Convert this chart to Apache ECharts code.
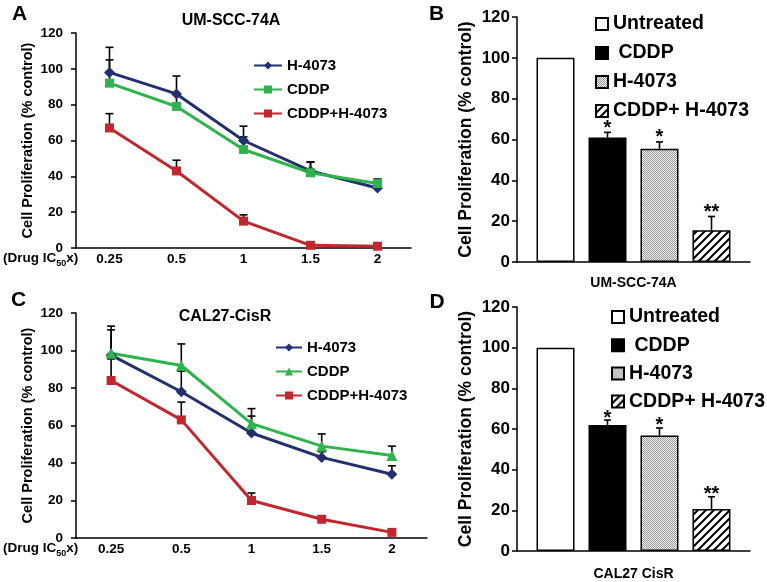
<!DOCTYPE html>
<html><head><meta charset="utf-8">
<script src="https://cdn.jsdelivr.net/npm/echarts@6/dist/echarts.min.js"></script>
<style>html,body{margin:0;padding:0;background:#fff}#c{width:767px;height:582px}</style>
</head><body><div id="c"></div>
<script>
// ---------- data ----------
const doseLabels = ['0.25', '0.5', '1', '1.5', '2'];
const lineNames = ['H-4073', 'CDDP', 'CDDP+H-4073'];

// Panel A : UM-SCC-74A
const A_h4073     = [98, 86, 60, 43, 33.5];
const A_h4073_err = [14, 10, 8, 5, 4.5];
const A_cddp      = [92, 79, 55, 42, 36];
const A_cddp_err  = [13, 7, 7, 6, 2.5];
const A_combo     = [67, 43, 15, 1.5, 1];
const A_combo_err = [8, 6, 3.5, 0, 0];

// Panel C : CAL27-CisR
const C_h4073     = [97.5, 78, 56, 43, 34];
const C_h4073_err = [13.5, 11, 9, 3, 4.5];
const C_cddp      = [98.5, 92, 61, 49, 44];
const C_cddp_err  = [14.5, 11.5, 8, 6.5, 5];
const C_combo     = [84, 63, 20, 10, 3];
const C_combo_err = [11.5, 9.5, 4, 0.5, 0];

// Bar panels
const barNames = ['Untreated', ' CDDP', 'H-4073', 'CDDP+ H-4073'];
const barStars = ['', '*', '*', '**'];
const B_values = [100, 61, 55.5, 15.5];
const B_err    = [0, 2.5, 3.3, 6.8];
const D_values = [100, 62, 56.8, 20.7];
const D_err    = [0, 2.4, 3.7, 6];
const B_category = ['UM-SCC-74A'];
const D_category = ['CAL27 CisR'];

const yTicks = {min: 0, max: 120, interval: 20};

// ---------- styles ----------
const FONT = '"Liberation Sans", Arial, Helvetica, sans-serif';
const NAVY = '#22306e', GREEN = '#2fb34c', RED = '#c1272d';
const BAR_W = 38, BAR_GAP = 14;

function makePattern(kind) {
  const cv = document.createElement('canvas');
  if (kind === 'dots') {
    cv.width = 2; cv.height = 2;
    const g = cv.getContext('2d');
    g.fillStyle = '#ececec'; g.fillRect(0, 0, 2, 2);
    g.fillStyle = '#9c9c9c'; g.fillRect(0, 0, 1, 1); g.fillRect(1, 1, 1, 1);
  } else {
    cv.width = 8; cv.height = 8;
    const g = cv.getContext('2d');
    g.fillStyle = '#fff'; g.fillRect(0, 0, 8, 8);
    g.strokeStyle = '#000'; g.lineWidth = 2;
    g.beginPath();
    g.moveTo(-2, 10); g.lineTo(10, -2);
    g.moveTo(-2, 2); g.lineTo(2, -2);
    g.moveTo(6, 10); g.lineTo(10, 6);
    g.stroke();
  }
  return {image: cv, repeat: 'repeat'};
}
const barColors = ['#ffffff', '#000000', makePattern('dots'), makePattern('hatch')];

const chart = echarts.init(document.getElementById('c'), null, {renderer: 'canvas'});

const grids = [
  {left: 76, right: 356, top: 33, bottom: 334},
  {left: 517, right: 17, top: 17, bottom: 320},
  {left: 76, right: 340, top: 313, bottom: 44},
  {left: 517, right: 17, top: 307, bottom: 31}
];

function yAxis(gi, fs, margin, nfs, ngap) {
  return Object.assign({
    type: 'value', gridIndex: gi,
    splitLine: {show: false},
    axisLine: {show: true, lineStyle: {color: '#000', width: 1.5}},
    axisTick: {show: true, length: 5, lineStyle: {color: '#000', width: 1.5}},
    axisLabel: {color: '#000', fontWeight: 'bold', fontSize: fs, fontFamily: FONT, margin: margin},
    name: 'Cell Proliferation (% control)', nameLocation: 'middle', nameGap: ngap,
    nameTextStyle: {color: '#000', fontWeight: 'bold', fontSize: nfs, fontFamily: FONT}
  }, yTicks);
}
function xLineAxis(gi) {
  return {
    type: 'category', gridIndex: gi, data: doseLabels, boundaryGap: true,
    axisLine: {lineStyle: {color: '#000', width: 1.5}},
    axisTick: {length: 5, lineStyle: {color: '#000', width: 1.5}},
    axisLabel: {color: '#000', fontWeight: 'bold', fontSize: 13.5, fontFamily: FONT, margin: 4}
  };
}
function xBarAxis(gi, cats, margin) {
  return {
    type: 'category', gridIndex: gi, data: cats, boundaryGap: true,
    axisLine: {lineStyle: {color: '#000', width: 1.5}},
    axisTick: {length: 5, lineStyle: {color: '#000', width: 1.5}},
    axisLabel: {color: '#000', fontWeight: 'bold', fontSize: 14, fontFamily: FONT, margin: margin}
  };
}

function lineErr(gi, vals, errs) {
  return {
    type: 'custom', xAxisIndex: gi, yAxisIndex: gi, z: 1, silent: true,
    data: vals.map((v, i) => [i, v, errs[i]]),
    encode: {x: 0, y: 1},
    renderItem: function (params, api) {
      const e = api.value(2);
      if (!(e > 0)) return null;
      const p1 = api.coord([api.value(0), api.value(1)]);
      const p2 = api.coord([api.value(0), api.value(1) + e]);
      const st = {stroke: '#000', lineWidth: 1.6};
      return {type: 'group', children: [
        {type: 'line', shape: {x1: p1[0], y1: p1[1], x2: p2[0], y2: p2[1]}, style: st},
        {type: 'line', shape: {x1: p2[0] - 4, y1: p2[1], x2: p2[0] + 4, y2: p2[1]}, style: st}
      ]};
    }
  };
}
function lineSeries(gi, panel, name, vals, color, symbol, size) {
  return {
    type: 'line', name: name + '|' + panel, xAxisIndex: gi, yAxisIndex: gi, z: 3,
    data: vals, symbol: symbol, symbolSize: size, showSymbol: true,
    lineStyle: {color: color, width: 3}, itemStyle: {color: color},
    emphasis: {disabled: true}
  };
}
function barSeries(gi, panel, vals) {
  return barNames.map((n, i) => ({
    type: 'bar', name: n + '|' + panel, xAxisIndex: gi, yAxisIndex: gi,
    data: [vals[i]], barWidth: BAR_W, barGap: (BAR_GAP / BAR_W * 100).toFixed(1) + '%',
    itemStyle: {color: barColors[i], borderColor: '#000', borderWidth: 1.5},
    emphasis: {disabled: true}
  }));
}
function barErr(gi, vals, errs, starOff) {
  return {
    type: 'custom', xAxisIndex: gi, yAxisIndex: gi, z: 4, silent: true,
    data: vals.map((v, i) => [0, v, errs[i], i]),
    encode: {x: 0, y: 1},
    renderItem: function (params, api) {
      const idx = api.value(3);
      const c = api.coord([0, api.value(1) + api.value(2)]);
      const x = c[0] + (idx - 1.5) * (BAR_W + BAR_GAP);
      const base = api.coord([0, api.value(1)]);
      const kids = [];
      const st = {stroke: '#000', lineWidth: 1.6};
      if (api.value(2) > 0) {
        kids.push({type: 'line', shape: {x1: x, y1: base[1], x2: x, y2: c[1]}, style: st});
        kids.push({type: 'line', shape: {x1: x - 3.5, y1: c[1], x2: x + 3.5, y2: c[1]}, style: st});
      }
      const s = barStars[params.dataIndex];
      if (s) {
        kids.push({type: 'text', style: {text: s, x: x, y: c[1] - starOff,
          align: 'center', verticalAlign: 'middle', textAlign: 'center', textVerticalAlign: 'middle',
          font: 'bold 20px ' + FONT, fill: '#000'}});
      }
      return {type: 'group', children: kids};
    }
  };
}

const lineLegendText = {color: '#000', fontWeight: 'bold', fontSize: 15, fontFamily: FONT};
const barLegendText = {color: '#000', fontWeight: 'bold', fontSize: 19.5, fontFamily: FONT};
const fmt = n => n.split('|')[0];

function richDrug(y) {
  return {
    type: 'text', x: 3, y: y,
    style: {
      text: '{a|(Drug IC}{b|50}{a|x)}',
      align: 'left', verticalAlign: 'middle', textAlign: 'left', textVerticalAlign: 'middle',
      rich: {
        a: {fontSize: 13.5, fontWeight: 'bold', fontFamily: FONT, fill: '#000', color: '#000', lineHeight: 20},
        b: {fontSize: 9, fontWeight: 'bold', fontFamily: FONT, fill: '#000', color: '#000', lineHeight: 19, verticalAlign: 'bottom'}
      }
    }
  };
}
function txt(x, y, s, size) {
  return {type: 'text', x: x, y: y, style: {text: s, font: 'bold ' + size + 'px ' + FONT, fill: '#000',
    align: 'center', verticalAlign: 'middle', textAlign: 'center', textVerticalAlign: 'middle'}};
}

const option = {
  animation: false,
  backgroundColor: '#fff',
  grid: grids,
  xAxis: [xLineAxis(0), xBarAxis(1, B_category, 14), xLineAxis(2), xBarAxis(3, D_category, 16)],
  yAxis: [yAxis(0, 13.5, 13, 14.5, 41), yAxis(1, 17, 7, 17.5, 42), yAxis(2, 13.5, 13, 14.5, 41), yAxis(3, 17, 7, 17.5, 42)],
  legend: [
    {data: lineNames.map(n => n + '|A'), orient: 'vertical', left: 253, top: 58, padding: 0, itemWidth: 28, itemHeight: 10,
     itemGap: 9, itemTextGap: 3, formatter: fmt, textStyle: lineLegendText, selectedMode: false},
    {data: lineNames.map(n => n + '|C'), orient: 'vertical', left: 275, top: 340, padding: 0, itemWidth: 26, itemHeight: 10,
     itemGap: 9, itemTextGap: 3, formatter: fmt, textStyle: lineLegendText, selectedMode: false},
    {data: barNames.map(n => n + '|B'), orient: 'vertical', left: 595, top: 14, padding: 0, itemWidth: 12, itemHeight: 12,
     icon: 'rect', itemGap: 9, itemTextGap: 3, formatter: fmt, textStyle: barLegendText, selectedMode: false},
    {data: barNames.map(n => n + '|D'), orient: 'vertical', left: 611, top: 307, padding: 0, itemWidth: 12, itemHeight: 12,
     icon: 'rect', itemGap: 8.2, itemTextGap: 3, formatter: fmt, textStyle: barLegendText, selectedMode: false}
  ],
  graphic: [
    txt(19.5, 14.5, 'A', 21), txt(436.5, 14, 'B', 21), txt(18.5, 300.5, 'C', 21), txt(437, 302.5, 'D', 21),
    txt(231, 20.5, 'UM-SCC-74A', 16), txt(225, 317, 'CAL27-CisR', 16),
    richDrug(258), richDrug(548)
  ],
  series: [
    lineErr(0, A_h4073, A_h4073_err), lineErr(0, A_cddp, A_cddp_err), lineErr(0, A_combo, A_combo_err),
    lineSeries(0, 'A', lineNames[0], A_h4073, NAVY, 'diamond', 11),
    lineSeries(0, 'A', lineNames[1], A_cddp, GREEN, 'rect', 9),
    lineSeries(0, 'A', lineNames[2], A_combo, RED, 'rect', 9),
    lineErr(2, C_h4073, C_h4073_err), lineErr(2, C_cddp, C_cddp_err), lineErr(2, C_combo, C_combo_err),
    lineSeries(2, 'C', lineNames[0], C_h4073, NAVY, 'diamond', 11),
    lineSeries(2, 'C', lineNames[1], C_cddp, GREEN, 'triangle', 11),
    lineSeries(2, 'C', lineNames[2], C_combo, RED, 'rect', 9),
    ...barSeries(1, 'B', B_values), barErr(1, B_values, B_err, 4),
    ...barSeries(3, 'D', D_values), barErr(3, D_values, D_err, 2)
  ]
};
chart.setOption(option);
</script>
</body></html>
